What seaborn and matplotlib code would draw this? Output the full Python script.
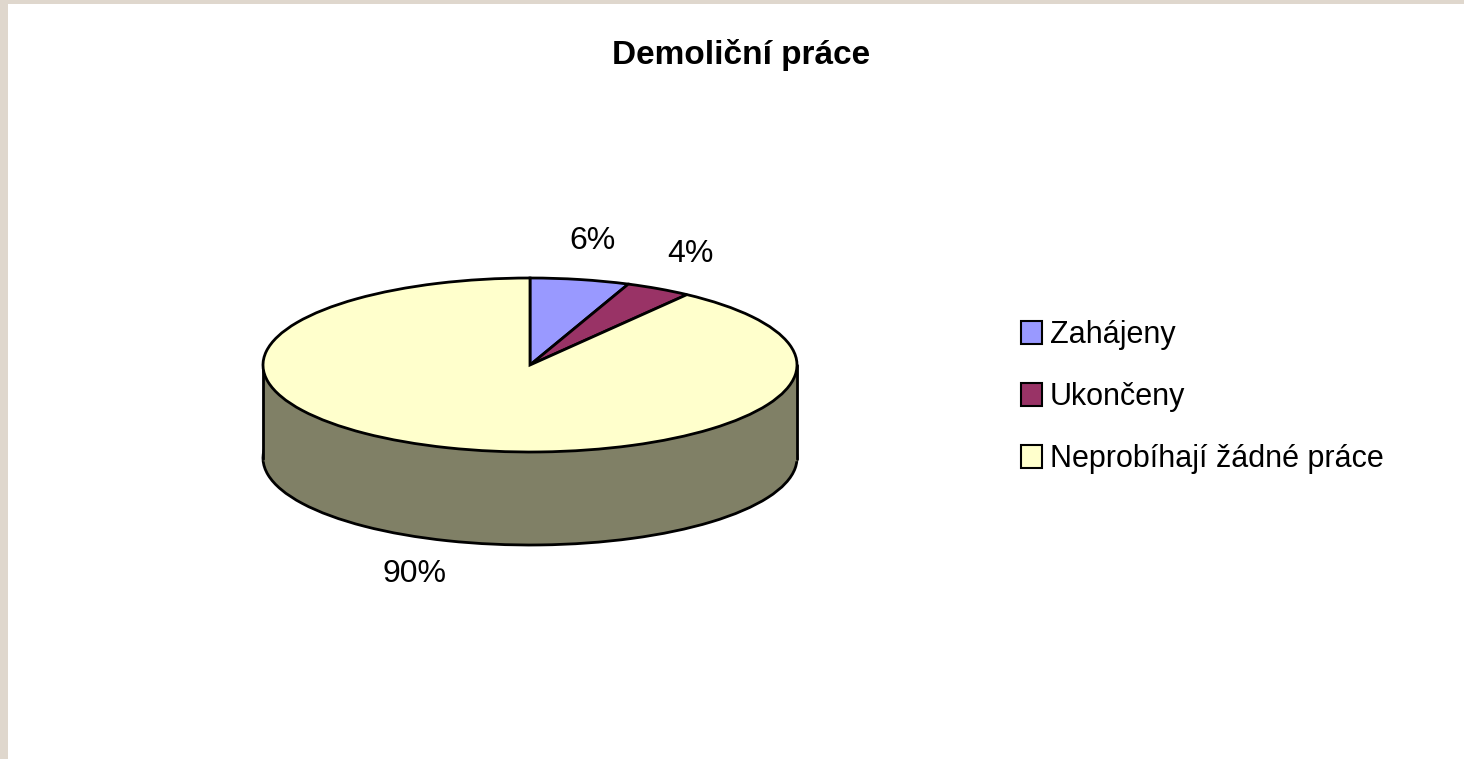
import numpy as np
import matplotlib
matplotlib.use('Agg')
import matplotlib.pyplot as plt
import seaborn as sns

# data
categories = ['Zahájeny', 'Ukončeny', 'Neprobíhají žádné práce']
shares = [6, 4, 90]
colors = ['#9999FF', '#993366', '#FFFFCC']
side_color = '#808066'

sns.set_theme(style='white')
plt.rcParams['font.family'] = ['Liberation Sans', 'DejaVu Sans']
plt.rcParams['text.color'] = 'black'

W, H = 1464, 759
fig = plt.figure(figsize=(W / 100, H / 100), dpi=100)
fig.patch.set_facecolor('#DFD7CD')
# white chart area
fig.add_artist(plt.Rectangle((8 / W, 0), 1, 1 - 4 / H, transform=fig.transFigure,
                             facecolor='white', edgecolor='none', zorder=0))

# pie geometry in pixels (rx=267, ry=87, depth=93)
rx, ry = 267, 87
depth = 93 / ry
m = 0.1
left_px, top_px = 263 - m * rx, 278 - m * ry
w_px = (2 + 2 * m) * rx
h_px = (2 + depth + 2 * m) * ry
ax = fig.add_axes([left_px / W, 1 - (top_px + h_px) / H, w_px / W, h_px / H])

# base (side) of the 3d pie
ax.pie(shares, colors=[side_color] * 3, startangle=90, counterclock=False,
       center=(0, -depth), wedgeprops=dict(edgecolor='black', linewidth=2))
ax.fill_between([-1, 1], -depth - 0.02, 0, color=side_color, zorder=2)
ax.plot([-1, -1], [-depth - 0.01, 0], color='black', lw=2, zorder=3)
ax.plot([1, 1], [-depth - 0.01, 0], color='black', lw=2, zorder=3)

wedges, _ = ax.pie(shares, colors=colors, startangle=90, counterclock=False,
                   wedgeprops=dict(edgecolor='black', linewidth=2))
for wd in wedges:
    wd.set_zorder(4)

ax.set_aspect('auto')
ax.set_xlim(-1 - m, 1 + m)
ax.set_ylim(-1 - depth - m, 1 + m)
ax.axis('off')

# percentage labels
for wd, v in zip(wedges, shares):
    mid = np.deg2rad((wd.theta1 + wd.theta2) / 2)
    if np.sin(mid) > 0:
        x, y = 1.25 * np.cos(mid), 1.45 * np.sin(mid)
    else:
        x, y = 1.4 * np.cos(mid), -depth + 1.4 * np.sin(mid)
    ax.text(x, y, f'{v}%', ha='center', va='center', fontsize=23, color='black', zorder=5)

fig.text(741 / W, 1 - 55 / H, 'Demoliční práce', ha='center', va='center',
         fontsize=24, fontweight='bold', color='black')

leg = fig.legend(wedges, categories, loc='center left', bbox_to_anchor=(1021 / W, 1 - 397 / H),
                 frameon=False, fontsize=22, labelcolor='black',
                 handlelength=0.69, handleheight=0.78,
                 handletextpad=0.26, labelspacing=1.05, borderpad=0, borderaxespad=0)
for h in leg.legend_handles:
    h.set_linewidth(1.5)

fig.savefig('out.png', dpi=100, facecolor=fig.get_facecolor())
